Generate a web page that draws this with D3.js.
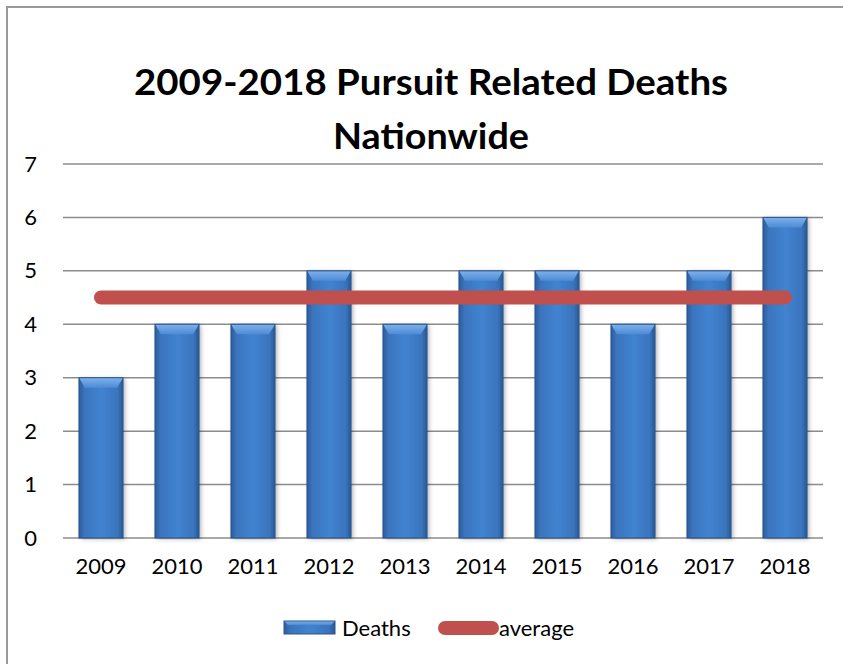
<!DOCTYPE html>
<html>
<head>
<meta charset="utf-8">
<script src="https://cdn.jsdelivr.net/npm/d3@7"></script>
<style>
  html, body { margin: 0; background: #fff; overflow: hidden; }
  svg { display: block; }
  text { font-family: Lato, "Open Sans", sans-serif; fill: #000; }
</style>
</head>
<body>
<div id="chart"></div>
<script>
// data
var years = ["2009","2010","2011","2012","2013","2014","2015","2016","2017","2018"];
var deaths = [3, 4, 4, 5, 4, 5, 5, 4, 5, 6];
var average = [4.5, 4.5, 4.5, 4.5, 4.5, 4.5, 4.5, 4.5, 4.5, 4.5];
var yTicks = [0, 1, 2, 3, 4, 5, 6, 7];
var titleLines = ["2009-2018 Pursuit Related Deaths", "Nationwide"];

var W = 843, H = 664;
var margin = {top: 164, right: 20, bottom: 126, left: 63},
    width = W - margin.left - margin.right,
    height = H - margin.top - margin.bottom;

var svg = d3.select("#chart").append("svg")
    .attr("width", W)
    .attr("height", H);

// gradients for the bars
var defs = svg.append("defs");
var grad = defs.append("linearGradient").attr("id", "barGrad")
    .attr("x1", "0%").attr("x2", "100%").attr("y1", "0%").attr("y2", "0%");
grad.append("stop").attr("offset", "0%").attr("stop-color", "#2c5c9a");
grad.append("stop").attr("offset", "12%").attr("stop-color", "#3a74bd");
grad.append("stop").attr("offset", "50%").attr("stop-color", "#4283d0");
grad.append("stop").attr("offset", "88%").attr("stop-color", "#3a74bd");
grad.append("stop").attr("offset", "100%").attr("stop-color", "#2a5893");

var topGrad = defs.append("linearGradient").attr("id", "topGrad")
    .attr("x1", "0%").attr("x2", "0%").attr("y1", "0%").attr("y2", "100%");
topGrad.append("stop").attr("offset", "0%").attr("stop-color", "#7fb2ea");
topGrad.append("stop").attr("offset", "100%").attr("stop-color", "#4d8bd6");

var shadow = defs.append("filter").attr("id", "shadow")
    .attr("x", "-20%").attr("y", "-10%").attr("width", "150%").attr("height", "130%");
shadow.append("feDropShadow").attr("dx", 2).attr("dy", 1).attr("stdDeviation", 2)
    .attr("flood-color", "#000").attr("flood-opacity", 0.3);

// outer frame: only the top and left edges are inside the picture
svg.append("path")
    .attr("d", "M7," + H + "V7H" + W)
    .attr("fill", "none")
    .attr("stroke", "#999")
    .attr("stroke-width", 2);

// title
svg.append("text")
    .attr("x", 431).attr("y", 95)
    .attr("text-anchor", "middle")
    .style("font-size", "37px").style("font-weight", "bold")
    .attr("textLength", 594).attr("lengthAdjust", "spacingAndGlyphs")
    .text(titleLines[0]);
svg.append("text")
    .attr("x", 431).attr("y", 149)
    .attr("text-anchor", "middle")
    .style("font-size", "37px").style("font-weight", "bold")
    .attr("textLength", 196).attr("lengthAdjust", "spacingAndGlyphs")
    .text(titleLines[1]);

var g = svg.append("g")
    .attr("transform", "translate(" + margin.left + "," + margin.top + ")");

// scales
var x = d3.scaleBand().domain(years).range([0, width]).paddingInner(0.42).paddingOuter(0.21);
var y = d3.scaleLinear().domain([0, 7]).range([height, 0]);

// gridlines
g.selectAll(".grid").data(yTicks).enter().append("line")
    .attr("x1", 0).attr("x2", width)
    .attr("y1", function(d) { return y(d); })
    .attr("y2", function(d) { return y(d); })
    .attr("stroke", "#8c8c8c")
    .attr("stroke-width", 1.5);

// y axis labels
var yAxis = g.append("g")
    .call(d3.axisLeft(y).tickValues(yTicks).tickFormat(d3.format("d")).tickSize(0).tickPadding(26));
yAxis.select(".domain").remove();
yAxis.selectAll("text").style("font-size", "22px").style("font-family", "Lato, sans-serif");

// x axis labels
var xAxis = g.append("g")
    .attr("transform", "translate(0," + height + ")")
    .call(d3.axisBottom(x).tickSize(0).tickPadding(20));
xAxis.select(".domain").remove();
xAxis.selectAll("text").style("font-size", "22px").style("font-family", "Lato, sans-serif");

// bars
var bev = 6;
var bars = g.selectAll(".bar").data(years).enter().append("g").attr("class", "bar");
bars.append("rect")
    .attr("x", function(d) { return x(d); })
    .attr("y", function(d, i) { return y(deaths[i]); })
    .attr("width", x.bandwidth())
    .attr("height", function(d, i) { return height - y(deaths[i]); })
    .attr("fill", "url(#barGrad)")
    .attr("filter", "url(#shadow)");
// bevel on top
bars.append("path")
    .attr("d", function(d, i) {
      var x0 = x(d), x1 = x(d) + x.bandwidth(), yt = y(deaths[i]);
      return "M" + x0 + "," + yt + "L" + x1 + "," + yt +
             "L" + (x1 - bev) + "," + (yt + bev + 4) + "L" + (x0 + bev) + "," + (yt + bev + 4) + "Z";
    })
    .attr("fill", "url(#topGrad)");
// dark side edges
bars.append("rect")
    .attr("x", function(d) { return x(d); })
    .attr("y", function(d, i) { return y(deaths[i]); })
    .attr("width", x.bandwidth())
    .attr("height", function(d, i) { return height - y(deaths[i]); })
    .attr("fill", "none")
    .attr("stroke", "#2b568e")
    .attr("stroke-width", 1);

// average line
g.append("path")
    .datum(average)
    .attr("fill", "none")
    .attr("stroke", "#c0504d")
    .attr("stroke-width", 14)
    .attr("stroke-linecap", "round")
    .attr("d", d3.line()
      .x(function(d, i) { return x(years[i]) + x.bandwidth() / 2; })
      .y(function(d) { return y(d); }));

// legend
var leg = svg.append("g").attr("transform", "translate(0,628)");
leg.append("rect")
    .attr("x", 284).attr("y", -7).attr("width", 51).attr("height", 13)
    .attr("fill", "url(#barGrad)");
leg.append("path")
    .attr("d", "M284,-7L335,-7L331,-3L288,-3Z")
    .attr("fill", "url(#topGrad)");
leg.append("rect")
    .attr("x", 284).attr("y", -7).attr("width", 51).attr("height", 13)
    .attr("fill", "none").attr("stroke", "#2b568e").attr("stroke-width", 1);
leg.append("text").attr("x", 342).attr("y", 0).attr("dy", "0.35em")
    .style("font-size", "22px").text("Deaths");
leg.append("line")
    .attr("x1", 445).attr("x2", 492).attr("y1", 0).attr("y2", 0)
    .attr("stroke", "#c0504d").attr("stroke-width", 14).attr("stroke-linecap", "round");
leg.append("text").attr("x", 499).attr("y", 0).attr("dy", "0.35em")
    .style("font-size", "22px").text("average");
</script>
</body>
</html>
